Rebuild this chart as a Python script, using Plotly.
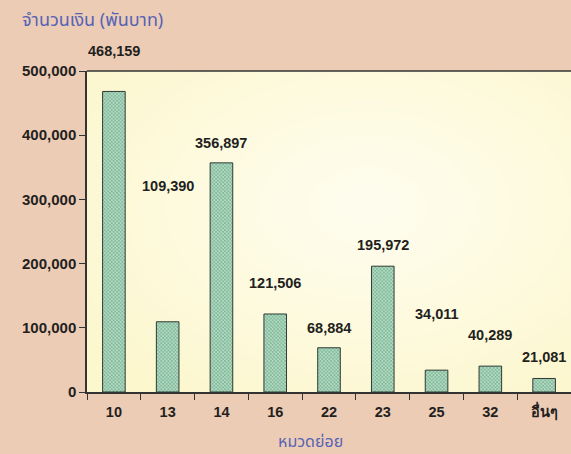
import base64
import struct
import zlib

import numpy as np
import plotly.graph_objects as go

# ---- data ----
categories = ["10", "13", "14", "16", "22", "23", "25", "32", "อื่นๆ"]
amounts = [468159, 109390, 356897, 121506, 68884, 195972, 34011, 40289, 21081]
y_ticks = [0, 100000, 200000, 300000, 400000, 500000]
y_tick_labels = ["0", "100,000", "200,000", "300,000", "400,000", "500,000"]

# pixel offset of each value label above its bar (style)
label_shift = [40, 136, 20, 31, 20, 21, 56, 31, 21]

W, H = 571, 454
M = dict(l=87, r=0, t=71, b=62)
PAPER = "#EDCCB5"
TXT = "#231f20"
BLUE = "#5563b5"
FONT = "Liberation Sans, Arial, sans-serif"
THAI = "Tahoma, Noto Sans Thai, Loma, Garuda, sans-serif"


def gradient_png(w, h):
    yy, xx = np.mgrid[0:h, 0:w]
    fx = xx / (w - 1)
    fy = yy / (h - 1)
    d = np.sqrt(((fx - 0.58) / 0.75) ** 2 + ((fy - 0.42) / 0.75) ** 2)
    t = np.clip(d, 0, 1) ** 1.2
    edge = np.array([252, 247, 204], dtype=float)
    centre = np.array([255, 253, 238], dtype=float)
    img = centre[None, None, :] * (1 - t[..., None]) + edge[None, None, :] * t[..., None]
    img = img.astype(np.uint8)
    raw = b"".join(b"\x00" + img[r].tobytes() for r in range(h))

    def chunk(tag, data):
        c = struct.pack(">I", len(data)) + tag + data
        return c + struct.pack(">I", zlib.crc32(tag + data) & 0xFFFFFFFF)

    png = b"\x89PNG\r\n\x1a\n"
    png += chunk(b"IHDR", struct.pack(">IIBBBBB", w, h, 8, 2, 0, 0, 0))
    png += chunk(b"IDAT", zlib.compress(raw, 9))
    png += chunk(b"IEND", b"")
    return "data:image/png;base64," + base64.b64encode(png).decode()


fig = go.Figure()
fig.add_trace(
    go.Bar(
        x=categories,
        y=amounts,
        width=0.42,
        marker=dict(
            color="#8fc4a3",
            line=dict(color="#2f3a34", width=1),
            pattern=dict(shape="x", size=2.5, solidity=0.7,
                         fgcolor="#2a8755", bgcolor="#d9efe0"),
        ),
        hoverinfo="x+y",
    )
)

# value labels: positioned by category index on the category axis
for i, (val, sh) in enumerate(zip(amounts, label_shift)):
    fig.add_annotation(
        x=i, y=val, yshift=sh, text=f"{val:,}", showarrow=False,
        xanchor="center", yanchor="middle",
        font=dict(family=FONT, size=14.5, color=TXT, weight="bold"),
    )

fig.add_layout_image(
    source=gradient_png(242, 160), xref="paper", yref="paper",
    x=0, y=1, sizex=1, sizey=1, sizing="stretch", layer="below",
    xanchor="left", yanchor="top",
)

# top border of the plot area
fig.add_shape(type="line", xref="paper", yref="paper", x0=0, x1=1, y0=1, y1=1,
              line=dict(color="#333333", width=1.5))

fig.add_annotation(
    text="จำนวนเงิน (พันบาท)", xref="paper", yref="paper",
    x=(20 - 87) / 484, y=1 + 51 / 321, xanchor="left", yanchor="middle",
    showarrow=False, font=dict(family=THAI, size=18, color=BLUE),
)
fig.add_annotation(
    text="หมวดย่อย", xref="paper", yref="paper",
    x=(310 - 87) / 484, y=-50 / 321, xanchor="center", yanchor="middle",
    showarrow=False, font=dict(family=THAI, size=16, color=BLUE),
)

fig.update_layout(
    width=W, height=H, margin=M,
    paper_bgcolor=PAPER, plot_bgcolor="#FDF9D8",
    showlegend=False,
    font=dict(family=FONT, color=TXT),
)
fig.update_xaxes(
    type="category", range=[-0.5, len(categories) - 0.5],
    showgrid=False, zeroline=False, automargin=False,
    showline=True, linecolor="#333333", linewidth=1.5,
    ticks="outside", tickson="boundaries", ticklen=6, tickcolor="#333333",
    tickfont=dict(family=FONT, size=14.5, color=TXT, weight="bold"),
    tickangle=0, ticklabelstandoff=6,
)
fig.update_yaxes(
    range=[0, 500000], tickvals=y_ticks, ticktext=y_tick_labels,
    showgrid=False, zeroline=False, automargin=False,
    showline=True, linecolor="#333333", linewidth=1.5,
    ticks="outside", ticklen=6, tickcolor="#333333",
    tickfont=dict(family=FONT, size=15, color=TXT, weight="bold"),
)

fig.write_html(
    "out.html",
    config={"displayModeBar": False},
    post_script="document.body.style.margin='0';document.body.style.overflow='hidden';",
)
